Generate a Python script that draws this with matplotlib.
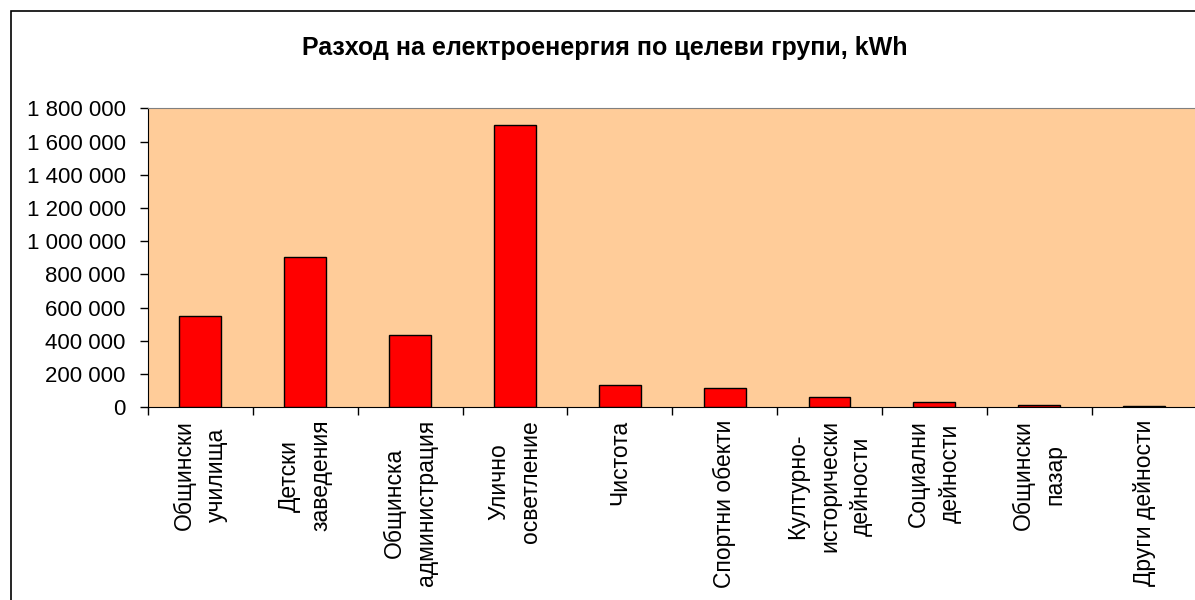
import matplotlib
matplotlib.use("Agg")
import matplotlib.pyplot as plt
from matplotlib.patches import Rectangle
from matplotlib.ticker import FuncFormatter, FixedLocator

plt.rcParams['font.family'] = ['Liberation Sans', 'DejaVu Sans']

title = "Разход на електроенергия по целеви групи, kWh"
categories = [
    "Общински\nучилища",
    "Детски\nзаведения",
    "Общинска\nадминистрация",
    "Улично\nосветление",
    "Чистота",
    "Спортни обекти",
    "Културно-\nисторически\nдейности",
    "Социални\nдейности",
    "Общински\nпазар",
    "Други дейности",
]
values = [550000, 903000, 438000, 1700000, 134000, 118000, 60000, 32000, 12000, 6000]
y_ticks = [0, 200000, 400000, 600000, 800000, 1000000, 1200000, 1400000, 1600000, 1800000]

W, H = 1195, 600
fig = plt.figure(figsize=(W / 100, H / 100), dpi=100)

# chart border (only left/top visible in the original crop)
fig.patches.append(Rectangle((11 / W, -0.1), 1.2, (H - 11) / H + 0.1,
                             transform=fig.transFigure, fill=False,
                             edgecolor='black', linewidth=1.2))

ax = fig.add_axes([148 / W, (H - 407.3) / H, (1196.5 - 148) / W, 299 / H])
ax.set_facecolor('#FFCC99')

x = list(range(len(categories)))
ax.bar(x, values, width=0.4, color='#FF0000', edgecolor='black', linewidth=1, zorder=3)

ax.set_xlim(-0.5, len(categories) - 0.5)
ax.set_ylim(0, 1800000)

ax.yaxis.set_major_locator(FixedLocator(y_ticks))
ax.yaxis.set_major_formatter(FuncFormatter(lambda v, p: f"{int(v):,}".replace(',', ' ')))
ax.tick_params(axis='y', direction='out', length=6, width=1, labelsize=16, pad=10)

ax.set_xticks(x)
ax.set_xticklabels(categories, rotation=90, ha='center', va='top',
                   multialignment='center', fontsize=16.5, linespacing=1.5)
ax.set_xticks([i - 0.5 for i in range(len(categories) + 1)], minor=True)
ax.tick_params(axis='x', which='major', length=0, pad=9)
ax.tick_params(axis='x', which='minor', direction='out', length=6, width=1)

for side in ['left', 'bottom']:
    ax.spines[side].set_color('black')
ax.spines['top'].set_color('#808080')
ax.spines['right'].set_visible(False)

fig.text(605 / W, 1 - 48 / H, title, ha='center', va='center',
         fontsize=18, fontweight='bold')

fig.savefig("out.png", dpi=100)
